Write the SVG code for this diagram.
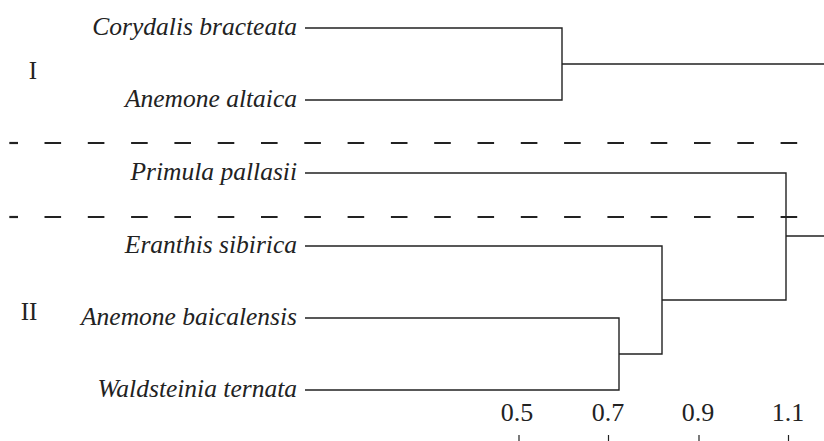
<svg xmlns="http://www.w3.org/2000/svg" width="824" height="441" viewBox="0 0 824 441">
<style>
.lbl{font-family:"Liberation Serif","Times New Roman",serif;font-style:italic;font-size:25.5px;fill:#222;text-anchor:end}
.rom{font-family:"Liberation Serif","Times New Roman",serif;font-size:25px;fill:#222;text-anchor:middle}
.ax{font-family:"Liberation Serif","Times New Roman",serif;font-size:26px;fill:#222;text-anchor:middle}
.br{fill:none;stroke:#222;stroke-width:1.4}
.dash{fill:none;stroke:#222;stroke-width:2.2;stroke-dasharray:16.6 26.7}
.tick{stroke:#222;stroke-width:1.2}
</style>
<rect width="824" height="441" fill="#fff"/>
<g id="separators">
<line x1="9.3" y1="143" x2="18" y2="143" stroke="#222" stroke-width="2.2"/>
<line class="dash" x1="44.5" y1="143" x2="800" y2="143"/>
<line x1="9.3" y1="217" x2="18" y2="217" stroke="#222" stroke-width="2.2"/>
<line class="dash" x1="44.5" y1="217" x2="800" y2="217"/>
</g>
<g id="group-I"><text class="rom" x="33" y="79">I</text></g>
<g id="group-II"><text class="rom" x="29" y="320">II</text></g>
<g id="leaf-corydalis"><text class="lbl" x="297" y="35">Corydalis bracteata</text></g>
<g id="leaf-anemone-altaica"><text class="lbl" x="297" y="107">Anemone altaica</text></g>
<g id="leaf-primula"><text class="lbl" x="297" y="180">Primula pallasii</text></g>
<g id="leaf-eranthis"><text class="lbl" x="297" y="253">Eranthis sibirica</text></g>
<g id="leaf-anemone-baicalensis"><text class="lbl" x="297" y="325">Anemone baicalensis</text></g>
<g id="leaf-waldsteinia"><text class="lbl" x="297" y="397">Waldsteinia ternata</text></g>
<g id="connectors">
<path class="br" d="M305 28H562V100H305M562 64H824"/>
<path class="br" d="M305 173H786V300H662M786 236H824"/>
<path class="br" d="M305 246H662V354H619"/>
<path class="br" d="M305 318H619V390H305"/>
</g>
<g id="axis">
<text class="ax" x="517" y="421">0.5</text>
<text class="ax" x="608" y="421">0.7</text>
<text class="ax" x="698" y="421">0.9</text>
<text class="ax" x="788" y="421">1.1</text>
<line class="tick" x1="519" y1="435" x2="519" y2="441"/>
<line class="tick" x1="608.5" y1="435" x2="608.5" y2="441"/>
<line class="tick" x1="699" y1="435" x2="699" y2="441"/>
<line class="tick" x1="788.5" y1="435" x2="788.5" y2="441"/>
</g>
</svg>
